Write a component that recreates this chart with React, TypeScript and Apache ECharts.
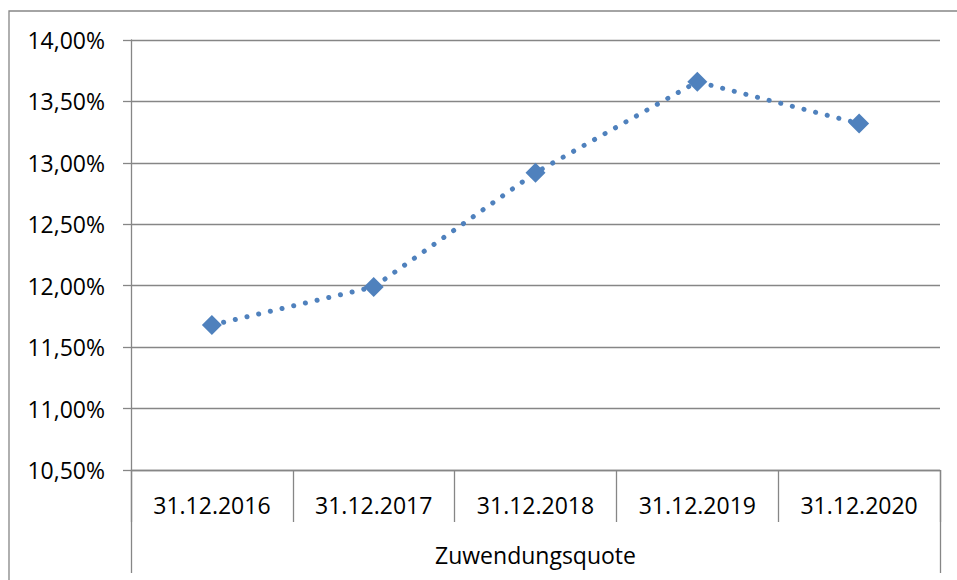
import React, { useEffect, useRef } from "react";
import * as echarts from "echarts";

const categories = ["31.12.2016", "31.12.2017", "31.12.2018", "31.12.2019", "31.12.2020"];
const groupLabel = ["Zuwendungsquote"];
const values = [11.68, 11.99, 12.92, 13.66, 13.32];

const FONT = "'Open Sans', sans-serif";
const GRAY = "#868686";
const BLUE = "#4F81BD";

export default function App() {
  const ref = useRef<HTMLDivElement>(null);
  useEffect(() => {
    if (!ref.current) return;
    const chart = echarts.init(ref.current, null, { renderer: "svg" });
    chart.setOption({
      animation: false,
      backgroundColor: "#fff",
      grid: { left: 131, right: 17, top: 40, bottom: 110, containLabel: false },
      graphic: [
        {
          type: "rect",
          shape: { x: 9, y: 11, width: 1000, height: 700 },
          style: { fill: "none", stroke: GRAY, lineWidth: 1.3 },
          silent: true,
        },
      ],
      xAxis: [
        {
          type: "category",
          data: categories,
          boundaryGap: true,
          axisLine: { show: true, lineStyle: { color: GRAY, width: 1.3 } },
          axisTick: { show: true, interval: 0, length: 52, lineStyle: { color: GRAY, width: 1.3 } },
          axisLabel: { interval: 0, margin: 23, fontSize: 23, fontFamily: FONT, color: "#000" },
          splitLine: { show: false },
        },
        {
          type: "category",
          data: groupLabel,
          position: "bottom",
          boundaryGap: true,
          axisLine: { show: false },
          axisTick: { show: true, interval: 0, length: 103, lineStyle: { color: GRAY, width: 1.3 } },
          axisLabel: { interval: 0, margin: 73, fontSize: 23, fontFamily: FONT, color: "#000" },
          splitLine: { show: false },
        },
      ],
      yAxis: {
        type: "value",
        min: 10.5,
        max: 14,
        interval: 0.5,
        axisLine: { show: true, lineStyle: { color: GRAY, width: 1.3 } },
        axisTick: { show: true, length: 8, lineStyle: { color: GRAY, width: 1.3 } },
        axisLabel: {
          margin: 26,
          fontSize: 23,
          fontFamily: FONT,
          color: "#000",
          formatter: (v: number) => v.toFixed(2).replace(".", ",") + "%",
        },
        splitLine: { show: true, lineStyle: { color: GRAY, width: 1.3 } },
      },
      series: [
        {
          type: "line",
          data: values,
          xAxisIndex: 0,
          symbol: "diamond",
          symbolSize: 20,
          itemStyle: { color: BLUE },
          lineStyle: { color: BLUE, width: 5, type: [0.1, 11.9], cap: "round" },
        },
      ],
    });
    return () => chart.dispose();
  }, []);
  return (
    <div
      ref={ref}
      style={{ position: "fixed", left: 0, top: 0, width: 957, height: 580 }}
    />
  );
}
